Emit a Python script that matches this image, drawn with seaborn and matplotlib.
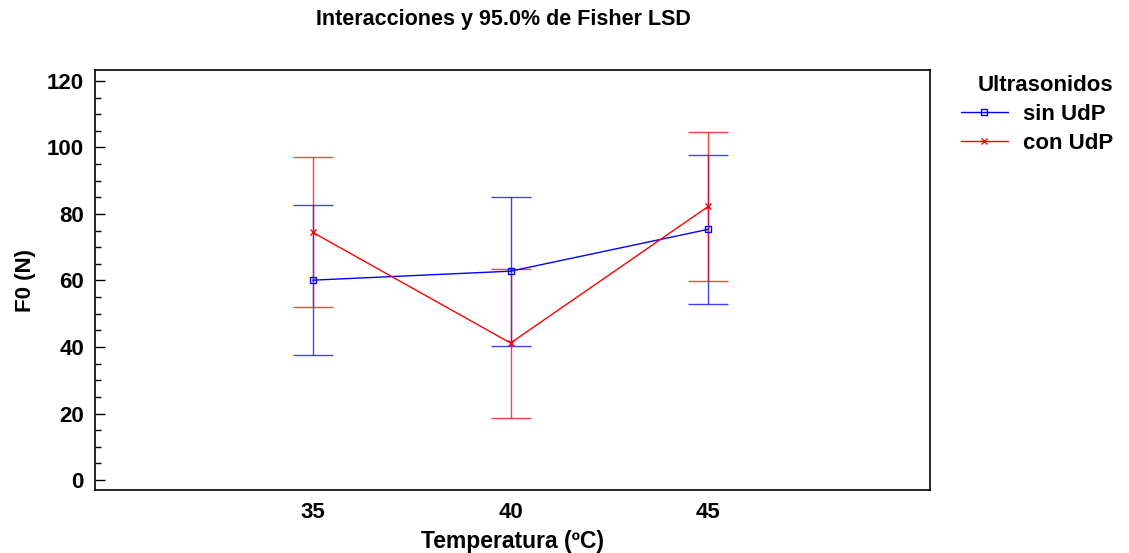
import matplotlib
matplotlib.use("Agg")
import matplotlib.pyplot as plt
from matplotlib.ticker import MultipleLocator
import seaborn as sns
import pandas as pd

temps = [35, 40, 45]
groups = ["sin UdP", "con UdP"]
sin_mean = [60.1, 62.8, 75.4]
sin_low = [37.6, 40.3, 53.0]
sin_high = [82.8, 85.2, 97.8]
con_mean = [74.5, 41.2, 82.3]
con_low = [52.0, 18.8, 59.8]
con_high = [97.0, 63.6, 104.6]

colors = {"sin UdP": "#0000ff", "con UdP": "#ff0000"}
markers = {"sin UdP": "s", "con UdP": "x"}

sns.set_style("ticks")
plt.rcParams['font.family'] = ['Liberation Sans', 'DejaVu Sans']
plt.rcParams['font.weight'] = 'bold'
plt.rcParams['text.color'] = 'black'
plt.rcParams['axes.labelcolor'] = 'black'
plt.rcParams['xtick.color'] = 'black'
plt.rcParams['ytick.color'] = 'black'

fig = plt.figure(figsize=(11.29, 5.53), dpi=100)
ax = fig.add_axes([95 / 1129, 1 - 490 / 553, (930 - 95) / 1129, (490 - 70) / 553])

for g, m, lo, hi in [(groups[0], sin_mean, sin_low, sin_high),
                     (groups[1], con_mean, con_low, con_high)]:
    ax.errorbar(temps, m,
                yerr=[[a - b for a, b in zip(m, lo)], [b - a for a, b in zip(m, hi)]],
                fmt="none", ecolor=colors[g], elinewidth=1.0, capsize=14.4,
                capthick=1.0, alpha=0.75)

for g, m in [(groups[0], sin_mean), (groups[1], con_mean)]:
    d = pd.DataFrame({"Temperatura": temps, "F0": m})
    sns.lineplot(data=d, x="Temperatura", y="F0", color=colors[g], marker=markers[g],
                 linewidth=1.0, markersize=4.5, markerfacecolor="none",
                 markeredgecolor=colors[g], markeredgewidth=1.0, ax=ax, label=g)

ax.set_xlim(29.5, 50.6)
ax.set_ylim(-3, 123.3)
ax.set_xticks(temps)
ax.set_yticks([0, 20, 40, 60, 80, 100, 120])
ax.yaxis.set_minor_locator(MultipleLocator(5))
ax.tick_params(axis="both", which="major", direction="in", length=7, width=1,
               labelsize=16, pad=8, top=False, right=False, colors="black")
ax.tick_params(axis="y", which="minor", direction="in", length=4, width=1, colors="black")
ax.tick_params(axis="x", which="major", length=0, pad=9)
for lab in ax.get_xticklabels() + ax.get_yticklabels():
    lab.set_fontweight("bold")
for s in ax.spines.values():
    s.set_visible(True)
    s.set_linewidth(1.2)
    s.set_color("black")

ax.set_xlabel("Temperatura (ºC)", fontsize=16.5, fontweight="bold", labelpad=5)
ax.set_ylabel("F0 (N)", fontsize=16, fontweight="bold", labelpad=8)
fig.text(503 / 1129, 1 - 20 / 553, "Interacciones y 95.0% de Fisher LSD", ha="center",
         va="center", fontsize=15.5, fontweight="bold")

handles, labels = ax.get_legend_handles_labels()
leg = ax.legend(handles, labels, title="Ultrasonidos", loc="upper left",
                bbox_to_anchor=(950 / 1129, 1 - 64 / 553), bbox_transform=fig.transFigure,
                frameon=False, fontsize=16, title_fontsize=16, handlelength=2.1,
                handletextpad=0.7, labelspacing=0.35, borderpad=0)
leg.get_title().set_fontweight("bold")
leg._legend_box.align = "right"
for t in leg.get_texts():
    t.set_fontweight("bold")

fig.savefig("out.png", dpi=100)
